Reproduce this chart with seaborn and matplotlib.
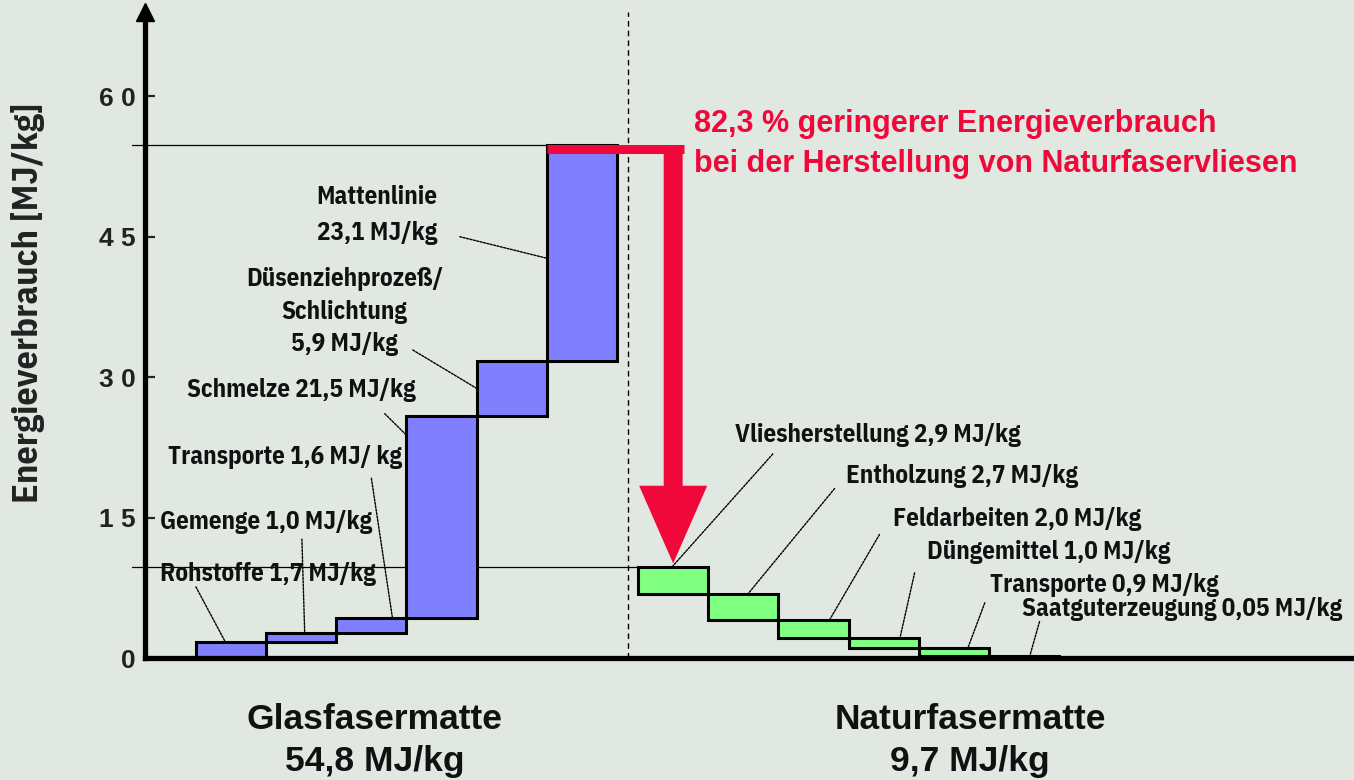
import numpy as np
import pandas as pd
import matplotlib
matplotlib.use("Agg")
import matplotlib.pyplot as plt
from matplotlib.patches import FancyArrow
import seaborn as sns

# ---------------- data ----------------
glass_steps = ["Rohstoffe", "Gemenge", "Transporte", "Schmelze",
               "Düsenziehprozeß/Schlichtung", "Mattenlinie"]
glass_values = [1.7, 1.0, 1.6, 21.5, 5.9, 23.1]
glass_total = 54.8

natural_steps = ["Vliesherstellung", "Entholzung", "Feldarbeiten",
                 "Düngemittel", "Transporte", "Saatguterzeugung"]
natural_values = [2.9, 2.7, 2.0, 1.0, 0.9, 0.05]
natural_total = 9.7

glass_labels = ["Rohstoffe 1,7 MJ/kg", "Gemenge 1,0 MJ/kg", "Transporte 1,6 MJ/ kg",
                "Schmelze 21,5 MJ/kg", "Düsenziehprozeß/\nSchlichtung\n5,9 MJ/kg",
                "Mattenlinie\n23,1 MJ/kg"]
natural_labels = ["Vliesherstellung 2,9 MJ/kg", "Entholzung 2,7 MJ/kg",
                  "Feldarbeiten 2,0 MJ/kg", "Düngemittel 1,0 MJ/kg",
                  "Transporte 0,9 MJ/kg", "Saatguterzeugung 0,05 MJ/kg"]
y_ticks = [0, 15, 30, 45, 60]
y_ticklabels = ["0", "1 5", "3 0", "4 5", "6 0"]
reduction_text = "82,3 % geringerer Energieverbrauch\nbei der Herstellung von Naturfaservliesen"
group_titles = ["Glasfasermatte\n54,8 MJ/kg", "Naturfasermatte\n9,7 MJ/kg"]

# ---------------- derived tables ----------------
glass_pos = np.arange(len(glass_values), dtype=float)
glass_top = np.cumsum(glass_values)
glass_bottom = glass_top - np.array(glass_values)
glass_df = pd.DataFrame({"pos": glass_pos, "height": glass_values, "bottom": glass_bottom})

natural_offset = 6.3
natural_pos = natural_offset + np.arange(len(natural_values), dtype=float)
natural_top = natural_total - np.concatenate([[0], np.cumsum(natural_values)[:-1]])
natural_bottom = natural_top - np.array(natural_values)
natural_df = pd.DataFrame({"pos": natural_pos, "height": natural_values, "bottom": natural_bottom})

# ---------------- style ----------------
BG = "#e1e8e1"
BLUE = "#8080ff"
GREEN = "#80ff80"
RED = "#f0083a"
NARROW = ["IBM Plex Sans Condensed", "DejaVu Sans"]
WIDE = ["Liberation Sans", "DejaVu Sans"]

sns.set_theme(style="white")
plt.rcParams["font.family"] = NARROW

fig = plt.figure(figsize=(13.54, 7.80), dpi=100, facecolor=BG)
ax = fig.add_axes([0.1071, 0.1564, 0.8929, 0.8282])
ax.set_facecolor(BG)

sns.barplot(data=glass_df, x="pos", y="height", native_scale=True, width=1.0,
            color=BLUE, saturation=1, edgecolor="black", linewidth=2.2,
            errorbar=None, bottom=glass_df["bottom"].values, ax=ax, zorder=3)
sns.barplot(data=natural_df, x="pos", y="height", native_scale=True, width=1.0,
            color=GREEN, saturation=1, edgecolor="black", linewidth=2.2,
            errorbar=None, bottom=natural_df["bottom"].values, ax=ax, zorder=3)

x_left, x_right = -1.225, 16.0
ax.set_xlim(x_left, x_right)
ax.set_ylim(0, 69.0)

# spines and ticks
for s in ["top", "right"]:
    ax.spines[s].set_visible(False)
for s in ["left", "bottom"]:
    ax.spines[s].set_linewidth(3.8)
    ax.spines[s].set_color("black")
    ax.spines[s].set_zorder(5)
ax.set_xticks([])
ax.set_xlabel("")
ax.set_yticks(y_ticks)
ax.set_yticklabels(y_ticklabels, fontfamily=WIDE, fontweight="bold", fontsize=19,
                   color="#222222")
ax.tick_params(axis="y", direction="in", length=7, width=1.6, pad=7, left=True)
ax.set_ylabel("Energieverbrauch [MJ/kg]", fontsize=26, fontweight="bold",
              color="#222222")
ax.yaxis.set_label_coords(-0.083, 0.55)
ax.plot(0, 1, marker="^", markersize=13, color="black", transform=ax.transAxes,
        clip_on=False, zorder=6)

# divider between groups
divider = (glass_pos[-1] + 0.5 + natural_pos[0] - 0.5) / 2
ax.axvline(divider, color="black", lw=1.0, ls=(0, (4, 3)), zorder=1)

# reference lines for totals
ext = x_left - 0.19
ax.plot([ext, glass_pos[-1] - 0.5], [glass_total, glass_total], color="black", lw=0.9,
        clip_on=False, zorder=2)
ax.plot([ext, natural_pos[0] - 0.5], [natural_total, natural_total], color="black",
        lw=0.9, clip_on=False, zorder=2)

# red arrow
shaft_x = natural_pos[0]
ax.plot([glass_pos[-1] - 0.5, shaft_x + 0.15], [glass_total - 0.4, glass_total - 0.4],
        color=RED, lw=6.5, solid_capstyle="butt", zorder=4)
arrow = FancyArrow(shaft_x, glass_total - 0.5, 0, -(glass_total - natural_total - 0.9),
                   width=0.27, head_width=0.97, head_length=8.3,
                   length_includes_head=True, color=RED, lw=0, zorder=4)
ax.add_patch(arrow)
ax.text(shaft_x + 0.3, 54.9, reduction_text, color=RED, fontfamily=WIDE,
        fontweight="bold", fontsize=22, ha="left", va="center", linespacing=1.4)

# annotations
lead = dict(arrowstyle="-", color="black", lw=1.0, ls=(0, (1.5, 1)), shrinkA=0, shrinkB=0)
fs = 18
# (text x, text y, ha, linespacing, leader start, leader end)
g_ann = [
    (-1.01, 9.0, "left", 1.2, (-0.5, 7.6), (glass_pos[0] - 0.08, glass_top[0])),
    (-1.01, 14.5, "left", 1.2, (1.01, 12.7), (glass_pos[1] + 0.05, glass_top[1])),
    (-0.9, 21.5, "left", 1.2, (2.0, 19.2), (glass_pos[2] + 0.3, glass_top[2])),
    (-0.63, 28.6, "left", 1.2, (2.19, 26.1), (glass_pos[3] - 0.5, glass_top[3] - 2.0)),
    (1.62, 37.0, "center", 1.45, (2.59, 32.9), (glass_pos[4] - 0.5, glass_bottom[4] + 3.0)),
    (2.08, 47.3, "center", 1.65, (3.26, 45.0), (glass_pos[5] - 0.5, glass_bottom[5] + 11.0)),
]
for lab, (tx, ty, ha, lsp, p0, p1) in zip(glass_labels, g_ann):
    ax.text(tx, ty, lab, fontsize=fs, fontweight="bold", ha=ha, va="center",
            color="#111111", linespacing=lsp, zorder=7)
    ax.annotate("", xy=p1, xytext=p0, arrowprops=lead, zorder=2)

n_ann = [
    (7.18, 23.8, (7.72, 21.8), (natural_pos[0] - 0.02, natural_top[0])),
    (8.76, 19.4, (8.6, 18.1), (natural_pos[1] + 0.06, natural_top[1])),
    (9.43, 14.8, (9.24, 13.2), (natural_pos[2] + 0.23, natural_top[2])),
    (9.91, 11.3, (9.74, 9.1), (natural_pos[3] + 0.23, natural_top[3])),
    (10.81, 7.85, (10.74, 5.9), (natural_pos[4] + 0.2, natural_top[4])),
    (11.27, 5.2, (11.52, 3.9), (natural_pos[5] + 0.08, natural_top[5])),
]
for lab, (tx, ty, p0, p1) in zip(natural_labels, n_ann):
    ax.text(tx, ty, lab, fontsize=fs, fontweight="bold", ha="left", va="center",
            color="#111111", zorder=7)
    ax.annotate("", xy=p1, xytext=p0, arrowprops=lead, zorder=2)

# group titles below the axis
trans = ax.get_xaxis_transform()
for gx, title in zip([2.05, 10.53], group_titles):
    ax.text(gx, -0.128, title, transform=trans, fontfamily=WIDE,
            fontweight="bold", fontsize=25.5, ha="center", va="center",
            linespacing=1.35, color="#111111")

fig.savefig("out.png", dpi=100, facecolor=BG)
